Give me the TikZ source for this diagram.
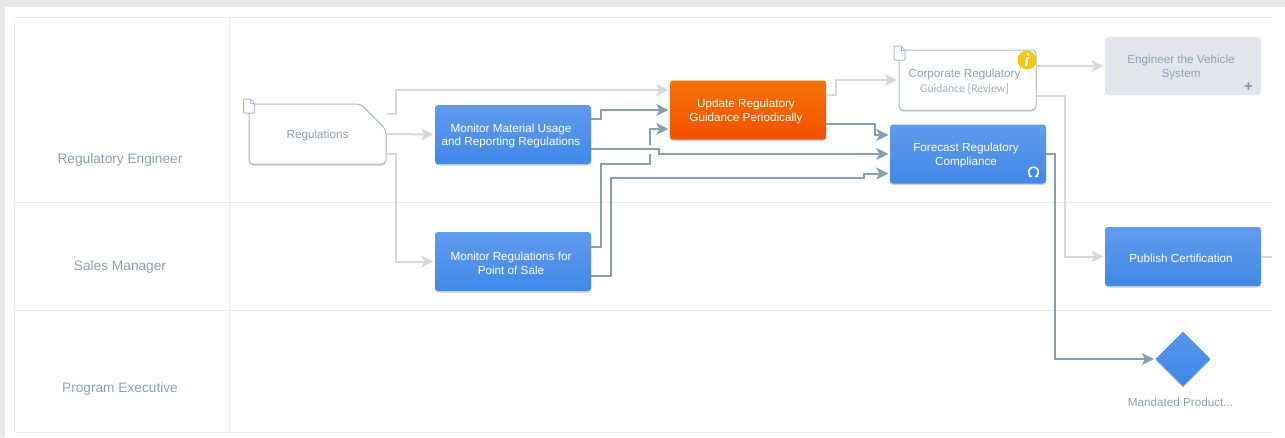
\documentclass[tikz,border=0pt]{standalone}
\usepackage{fontspec}
\setmainfont{Liberation Sans}
\newfontfamily\reviewfont{Carlito}
\usetikzlibrary{arrows.meta, shadows, shapes.geometric, shapes.misc}
\definecolor{lanegray}{HTML}{EBECF0}
\definecolor{pagegray}{HTML}{E8E8E8}
\definecolor{lightflow}{HTML}{D6D7E0}
\definecolor{darkflow}{HTML}{84A0B5}
\definecolor{labelblue}{HTML}{8AA2B8}
\definecolor{docline}{HTML}{A9BBCD}

\begin{document}
\begin{tikzpicture}[x=1pt, y=-1pt, font=\fontsize{11.7}{13.7}\selectfont]
    % Define styles
    \tikzstyle{lane}=[draw=lanegray, line width=1pt]
    \tikzstyle{lanelabel}=[text=labelblue, font=\fontsize{13.7}{16}\selectfont]
    \tikzstyle{soft}=[drop shadow={shadow xshift=0pt, shadow yshift=-1.5pt, opacity=0.18, fill=black}]
    \tikzstyle{boxtext}=[align=center, inner sep=0pt, text=white, xshift=-2pt, yshift=-1.5pt]
    \tikzstyle{doctext}=[boxtext, text=labelblue]
    \tikzstyle{box}=[rectangle, rounded corners=3pt, minimum width=156pt, minimum height=59pt, inner sep=0pt, soft]
    \tikzstyle{task}=[box, top color={rgb,255:red,97;green,155;blue,236}, bottom color={rgb,255:red,64;green,137;blue,232}]
    \tikzstyle{hottask}=[box, top color={rgb,255:red,246;green,115;blue,0}, bottom color={rgb,255:red,243;green,80;blue,0}]
    \tikzstyle{subtask}=[rectangle, rounded corners=3pt, minimum width=156pt, minimum height=58pt, inner sep=0pt, fill={rgb,255:red,227;green,230;blue,236}]
    \tikzstyle{document}=[rounded corners=4pt, draw=docline, line width=1pt, fill=white, inner sep=0pt, soft]
    \tikzstyle{lightedge}=[draw=lightflow, line width=2pt, -{Stealth[length=12pt, width=12pt, inset=3pt]}, shorten >=1.5pt]
    \tikzstyle{darkedge}=[draw=darkflow, line width=2pt, -{Stealth[length=12pt, width=12pt, inset=3pt]}, shorten >=1.5pt]
    \tikzset{docicon/.pic={
        \draw[draw=docline, fill=white, line width=1pt, rounded corners=1pt] (0,0) -- (7,0) -- (11,4) -- (11,14) -- (0,14) -- cycle;
        \draw[draw=docline, line width=0.6pt] (7,0) -- (7,4) -- (11,4);
    }}

    % Draw the page and the lanes
    \useasboundingbox (0,0) rectangle (1285,437);
    \fill[pagegray] (0,0) rectangle (1285,437);
    \fill[white] (5,7) rectangle (1285,437);
    \foreach \y in {17.5,202.5,310,432}
        \draw[lane] (14.5,\y) -- (1272,\y);
    \foreach \x in {14.5,229.5}
        \draw[lane] (\x,17.5) -- (\x,432);
    \foreach \name/\y/\txt in {engineer/159.5/Regulatory Engineer, sales/266.5/Sales Manager, executive/388.5/Program Executive}
        \node[lanelabel] (\name) at (120,\y) {\txt};

    % Draw the tasks
    \foreach \name/\x/\y/\txt in {mm/513/134.5/{Monitor Material Usage\\and Reporting Regulations}, mr/513/261.5/{Monitor Regulations for\\Point of Sale}, fc/968/154/{Forecast Regulatory\\Compliance}, pc/1183/256.5/{Publish Certification}}
        \node[task, label={[boxtext]center:\txt}] (\name) at (\x,\y) {};
    \node[hottask, label={[boxtext]center:{Update Regulatory\\Guidance Periodically}}] (upd) at (748,110) {};
    \node[subtask, label={[doctext]center:{Engineer the Vehicle\\System}}] (eng) at (1183,66) {};

    % Draw the documents
    \node[document, chamfered rectangle, chamfered rectangle corners=north east, chamfered rectangle xsep=21pt, chamfered rectangle ysep=20pt, minimum width=137pt, minimum height=60pt, label={[doctext, xshift=2pt]center:Regulations}] (regs) at (317.5,134) {\phantom{Regulations}};
    \node[document, minimum width=137pt, minimum height=60pt, label={[doctext, xshift=-1pt]center:{Corporate Regulatory\\[1pt]{\reviewfont\color{labelblue!85!white}Guidance [Review]}}}] (corp) at (967.5,80) {};
    \pic at (243.5,99) {docicon};
    \pic at (894,46) {docicon};

    % Draw the milestone
    \node[diamond, minimum width=55pt, minimum height=55pt, inner sep=0pt, top color={rgb,255:red,86;green,149;blue,235}, bottom color={rgb,255:red,64;green,137;blue,232}, soft] (mp) at (1183,359) {};
    \node[text=labelblue] (mplabel) at (1180.5,402.5) {Mandated Product...};

    % Draw the light edges
    \draw[lightedge] ([yshift=20pt]regs.east) -| (396,90) -- ([yshift=20pt]upd.west);
    \draw[lightedge] (regs.east) -- (mm.west);
    \draw[lightedge] ([yshift=-20pt]regs.east) -| (396,261.5) -- (mr.west);
    \draw[lightedge] ([yshift=15pt]upd.east) -| (835.5,80) -- (corp.west);
    \draw[lightedge] ([yshift=14pt]corp.east) -- ([yshift=0pt]eng.west);
    \draw[lightedge] ([yshift=-15.5pt]corp.east) -| (1065,256.5) -- (pc.west);
    \coordinate (pcout) at (1272,256.5);
    \draw[draw=lightflow, line width=2pt] (pc.east) -- (pcout);

    % Draw the dark edges
    \draw[darkedge] ([yshift=15.5pt]mm.east) -| (600.5,110) -- (upd.west);
    \draw[darkedge] ([yshift=-14pt]mm.east) -| (659,154) -- (fc.west);
    \draw[darkedge] ([yshift=15pt]mr.east) -| (600.5,163.5) -- (650,163.5) -- (650,154) (650,144.5) |- ([yshift=-19pt]upd.west);
    \draw[darkedge] ([yshift=-14.5pt]mr.east) -| (610.5,178) -- (864,178) -- (864,173.5) -- ([yshift=-19.5pt]fc.west);
    \draw[darkedge] ([yshift=-14pt]upd.east) -| (875,135) -- ([yshift=19pt]fc.west);
    \draw[darkedge] (fc.east) -| (1055,359) -- (mp.west);

    % Draw the badges
    \node[circle, fill={rgb,255:red,245;green,197;blue,24}, minimum size=19pt, inner sep=0pt, text=white, font=\fontsize{17}{17}\selectfont\bfseries\itshape] (info) at (1027,60) {i};
    \coordinate (loop) at (1033.5,172);
    \draw[white, line width=1.5pt] ([xshift=2pt, shift={(-60:5pt)}]loop) -- ([shift={(-60:5pt)}]loop) arc[start angle=-60, end angle=240, radius=5pt] -- ++(-2,0);
    \node[text={rgb,255:red,138;green,148;blue,160}, font=\fontsize{15}{15}\selectfont\bfseries] (plus) at (1248.5,87) {+};
\end{tikzpicture}
\end{document}
